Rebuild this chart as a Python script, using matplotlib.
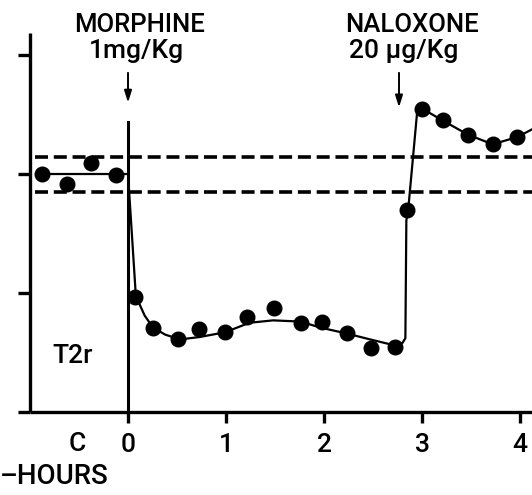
import matplotlib
matplotlib.use('Agg')
import matplotlib.pyplot as plt

# control readings before morphine (hours, response units)
ctrl_x = [-0.875, -0.625, -0.375, -0.125]
ctrl_y = [2.0, 1.92, 2.09, 1.99]
# after morphine 1 mg/Kg
morph_x = [0.07, 0.255, 0.51, 0.72, 0.99, 1.21, 1.49, 1.76, 1.98, 2.23, 2.48, 2.72]
morph_y = [0.97, 0.71, 0.61, 0.70, 0.67, 0.80, 0.87, 0.75, 0.76, 0.66, 0.54, 0.55]
# after naloxone 20 ug/Kg
nal_x = [2.85, 3.0, 3.21, 3.47, 3.72, 3.97]
nal_y = [1.70, 2.55, 2.45, 2.33, 2.25, 2.31]
# the hand drawn trace through the points
trace_x = [-0.87, 0.0, 0.08, 0.17, 0.255, 0.38, 0.53, 0.73, 0.99, 1.24, 1.48,
           1.76, 1.96, 2.23, 2.47, 2.72, 2.80, 2.83, 2.84, 2.86, 2.95, 3.0,
           3.21, 3.47, 3.72, 3.97, 4.25]
trace_y = [2.0, 2.0, 0.975, 0.81, 0.71, 0.65, 0.61, 0.63, 0.67, 0.75, 0.77,
           0.76, 0.71, 0.66, 0.61, 0.56, 0.58, 0.62, 1.61, 1.71, 2.52, 2.55,
           2.45, 2.33, 2.25, 2.31, 2.43]
# dashed band around control level
band = [2.143, 1.849]

x_ticks = [0, 1, 2, 3, 4]
x_labels = ['0', '1', '2', '3', '4']
y_ticks = [0, 1, 2, 3]

FONT = ['Liberation Sans Narrow', 'Roboto', 'DejaVu Sans']
plt.rcParams['font.family'] = FONT
plt.rcParams['font.weight'] = 'medium'

fig = plt.figure(figsize=(5.32, 4.95), dpi=100)
ax = fig.add_axes([30 / 532, 83 / 495, 502 / 532, 379 / 495])
ax.set_xlim(-1.0, 4.122)
ax.set_ylim(0, 3.185)

for s in ['top', 'right']:
    ax.spines[s].set_visible(False)
for s in ['left', 'bottom']:
    ax.spines[s].set_linewidth(2.4)
    ax.spines[s].set_capstyle('butt')

ax.set_xticks(x_ticks)
ax.set_xticklabels(x_labels, fontsize=19)
ax.set_yticks(y_ticks)
ax.set_yticklabels([])
ax.tick_params(axis='x', direction='out', length=8, width=2.4, pad=7)
ax.tick_params(axis='y', direction='out', length=8.6, width=2.4)

for b in band:
    ax.plot([-0.95, 4.122], [b, b], color='black', lw=2.6,
            dashes=(3.6, 1.6), clip_on=False)

# morphine injection line
ax.plot([0, 0], [0, 2.437], color='black', lw=2.2)

ax.plot(trace_x, trace_y, color='black', lw=1.6)
ax.plot(ctrl_x, ctrl_y, 'o', color='black', ms=10.5)
ax.plot(morph_x, morph_y, 'o', color='black', ms=10.5)
ax.plot(nal_x, nal_y, 'o', color='black', ms=10.5)

arrow = dict(arrowstyle='-|>,head_length=0.7,head_width=0.22', color='black',
             lw=1.4, shrinkA=0, shrinkB=0)
ax.annotate('', xy=(0.0, 2.60), xytext=(0.0, 2.85), arrowprops=arrow,
            annotation_clip=False)
ax.annotate('', xy=(2.765, 2.56), xytext=(2.765, 2.85), arrowprops=arrow,
            annotation_clip=False)

ax.text(0.122, 3.25, 'MORPHINE', fontsize=18.5, ha='center', va='center')
ax.text(0.09, 3.03, '1mg/Kg', fontsize=19, ha='center', va='center')
ax.text(2.90, 3.25, 'NALOXONE', fontsize=18.5, ha='center', va='center')
ax.text(2.81, 3.03, '20 µg/Kg', fontsize=19, ha='center', va='center')
ax.text(-0.57, 0.47, 'T2r', fontsize=19, ha='center', va='center')
ax.text(-0.52, -0.27, 'C', fontsize=19, ha='center', va='center')
fig.text(0.0, 1 - 477 / 495, '–HOURS', fontsize=20, ha='left', va='center')

fig.savefig('out.png', dpi=100)
